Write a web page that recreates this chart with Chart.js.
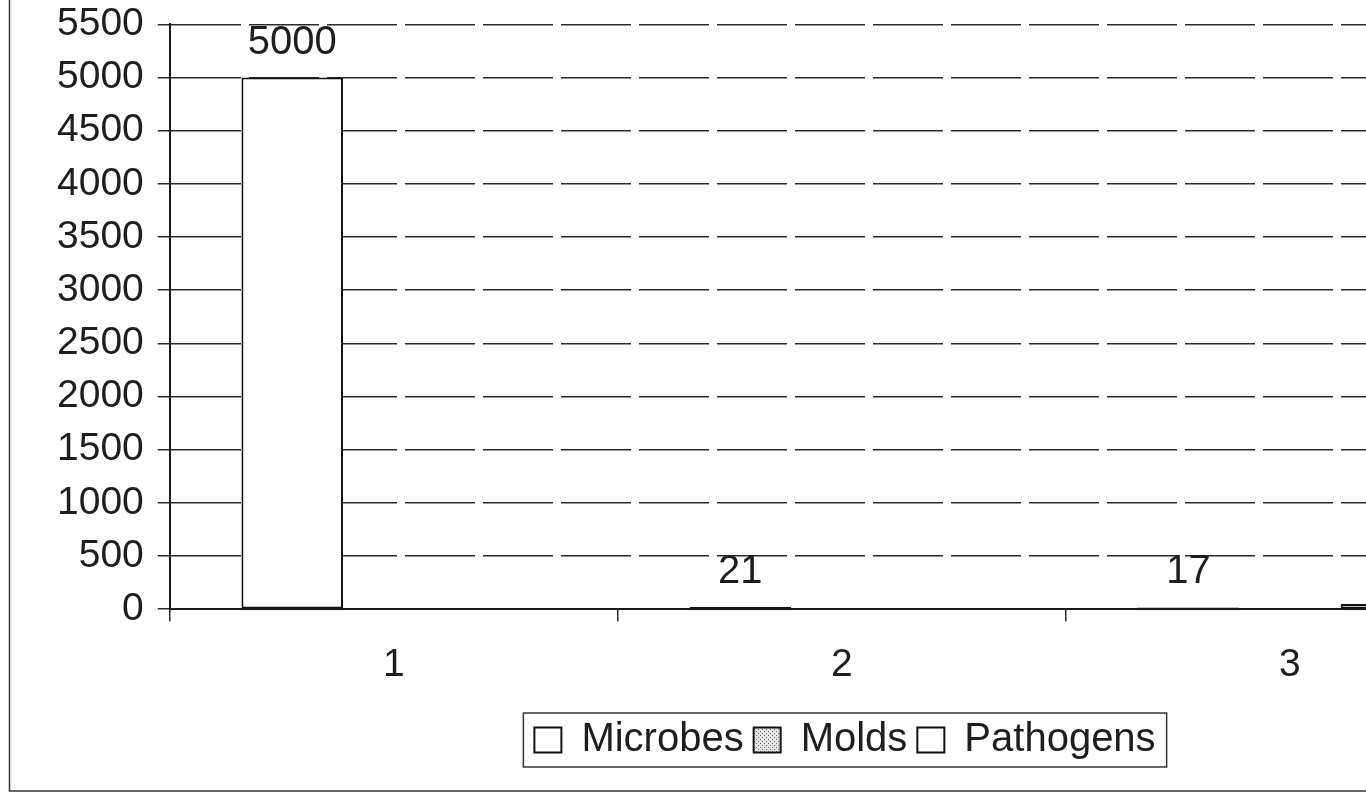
<!DOCTYPE html>
<html>
<head>
<meta charset="utf-8">
<script src="https://cdn.jsdelivr.net/npm/chart.js@4.4.1/dist/chart.umd.min.js"></script>
<style>
    html, body { margin: 0; padding: 0; background: #fff; overflow: hidden; }
    #area { position: absolute; left: 0; top: -13px; width: 1690px; height: 806px; }
</style>
</head>
<body>
<div id="area"><canvas id="grafico" width="1690" height="806"></canvas></div>
<script>
//Categorias do eixo X
const categorias = ['1', '2', '3'];

//Valores de cada serie (null = sem dado)
const microbes = [5000, 21, 17];
const molds = [null, null, null];
const pathogens = [null, null, 50];

//Eixo Y
const yMin = 0;
const yMax = 5500;
const yPasso = 500;

const fonte = "'Liberation Sans', Arial, sans-serif";
const corTexto = '#1e1e1e';
const corLinha = '#2a2a2a';

//Textura pontilhada usada na serie Molds
const padraoPontilhado = () => {
    const c = document.createElement('canvas');
    c.width = 4;
    c.height = 4;
    const g = c.getContext('2d');
    g.fillStyle = '#e2e2e2';
    g.fillRect(0, 0, 4, 4);
    g.fillStyle = '#7a7a7a';
    g.fillRect(0, 0, 1, 1);
    g.fillRect(2, 2, 1, 1);
    return g.createPattern(c, 'repeat');
};

//Moldura externa do grafico
const pluginMoldura = {
    id: 'moldura',
    beforeDraw: (chart) => {
        const ctx = chart.ctx;
        ctx.save();
        ctx.strokeStyle = '#333';
        ctx.lineWidth = 1.5;
        ctx.strokeRect(9.5, -4, chart.width - 19, chart.height + 2);
        ctx.restore();
    }
};

//Legenda centralizada no canvas inteiro + caixa em volta
const pluginLegenda = {
    id: 'legendaCaixa',
    afterLayout: (chart) => {
        const lg = chart.legend;
        const dx = chart.width / 2 - (lg.left + lg.right) / 2;
        lg.left += dx;
        lg.right += dx;
    },
    afterDraw: (chart) => {
        const lg = chart.legend;
        const pad = lg.options.labels.padding;
        const larg = lg.lineWidths[0];
        const x0 = (lg.left + pad + lg.right - larg) / 2;
        const meio = lg.top + pad + lg.options.labels.font.size / 2;
        const ctx = chart.ctx;
        ctx.save();
        ctx.strokeStyle = '#333';
        ctx.lineWidth = 1.5;
        ctx.strokeRect(x0 - 11, meio - 27, larg - pad + 22, 54);
        ctx.restore();
    }
};

//Valor escrito acima de cada barra
const pluginRotulos = {
    id: 'rotulos',
    afterDatasetsDraw: (chart) => {
        const ctx = chart.ctx;
        ctx.save();
        ctx.font = '40px ' + fonte;
        ctx.fillStyle = corTexto;
        ctx.textAlign = 'center';
        ctx.textBaseline = 'alphabetic';
        chart.data.datasets.forEach((ds, i) => {
            chart.getDatasetMeta(i).data.forEach((barra, j) => {
                const v = ds.data[j];
                if (v === null || v === undefined) return;
                ctx.fillText(String(v), barra.x, barra.y - 24);
            });
        });
        ctx.restore();
    }
};

const serie = (nome, valores, fundo) => ({
    label: nome,
    data: valores,
    backgroundColor: fundo,
    borderColor: '#111',
    borderWidth: 2,
    borderSkipped: false,
    categoryPercentage: 0.68,
    barPercentage: 1.0
});

const ConfigGrafico = () => {
    const data = {
        labels: categorias,
        datasets: [
            serie('Microbes', microbes, '#ffffff'),
            serie('Molds', molds, padraoPontilhado()),
            serie('Pathogens', pathogens, '#ffffff')
        ]
    };

    return {
        type: 'bar',
        data,
        options: {
            responsive: false,
            animation: false,
            devicePixelRatio: 1,
            layout: { padding: { left: 43, right: 176, top: 0, bottom: 23 } },
            plugins: {
                legend: {
                    position: 'bottom',
                    labels: {
                        font: { family: fonte, size: 40 },
                        color: corTexto,
                        boxWidth: 27,
                        boxHeight: 25,
                        padding: 10
                    }
                },
                tooltip: { enabled: false }
            },
            scales: {
                x: {
                    grid: {
                        offset: true,
                        drawOnChartArea: false,
                        drawTicks: true,
                        tickLength: 12,
                        color: corLinha,
                        lineWidth: 1.5
                    },
                    border: { color: '#1a1a1a', width: 2 },
                    ticks: { font: { family: fonte, size: 39 }, color: corTexto, padding: 21 }
                },
                y: {
                    min: yMin,
                    max: yMax,
                    ticks: {
                        stepSize: yPasso,
                        font: { family: fonte, size: 39 },
                        color: corTexto,
                        padding: 14,
                        callback: (v) => String(v)
                    },
                    grid: { color: corLinha, lineWidth: 1.5, tickLength: 12 },
                    border: { color: '#1a1a1a', width: 2, dash: [70, 8] }
                }
            }
        },
        plugins: [pluginMoldura, pluginLegenda, pluginRotulos]
    };
};

new Chart(document.getElementById('grafico'), ConfigGrafico());
</script>
</body>
</html>
